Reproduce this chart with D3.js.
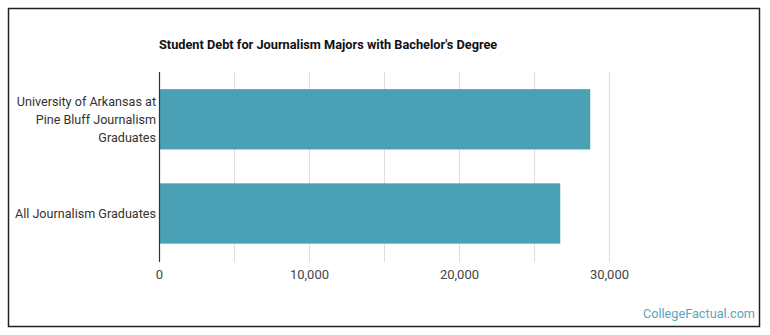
<!DOCTYPE html>
<html><head><meta charset="utf-8">
<script src="https://cdn.jsdelivr.net/npm/d3@7"></script>
<style>body{margin:0;background:#fff;font-family:Roboto,"Noto Sans",sans-serif;}</style>
</head><body><svg id="c" width="770" height="335"></svg>
<script>
const categories = [["University of Arkansas at","Pine Bluff Journalism","Graduates"],["All Journalism Graduates"]];
const values = [28750, 26750];
const tickValues = [0, 10000, 20000, 30000];
const gridValues = [0, 5000, 10000, 15000, 20000, 25000, 30000];
const title = "Student Debt for Journalism Majors with Bachelor's Degree";

const svg = d3.select("#c");
svg.append("rect").attr("x",8.5).attr("y",8.5).attr("width",751).attr("height",318)
  .attr("fill","#fff").attr("stroke","#222").attr("stroke-width",1.5);

const x = d3.scaleLinear().domain([0,30000]).range([159,609]);
const y = d3.scaleBand().domain(d3.range(categories.length)).range([72.2,260.6]).paddingInner(0.36).paddingOuter(0.18);

svg.append("g").selectAll("line").data(gridValues.slice(1)).join("line")
  .attr("x1",d=>Math.round(x(d))+0.5).attr("x2",d=>Math.round(x(d))+0.5)
  .attr("y1",72).attr("y2",262).attr("stroke","#ddd").attr("stroke-width",1);

svg.append("g").selectAll("rect").data(values).join("rect")
  .attr("x",x(0)).attr("y",(d,i)=>y(i)).attr("width",d=>x(d)-x(0)).attr("height",y.bandwidth())
  .attr("fill","#4aa0b4");

svg.append("line").attr("x1",159.5).attr("x2",159.5).attr("y1",72).attr("y2",262).attr("stroke","#333").attr("stroke-width",1.2);

const ax = d3.axisBottom(x).tickValues(tickValues).tickFormat(d3.format(",")).tickSize(0).tickPadding(0);
const g = svg.append("g").attr("transform","translate(0,270)").call(ax);
g.select(".domain").remove();
g.selectAll("text").attr("font-size","13px").attr("fill","#444").attr("font-family","Roboto,sans-serif").attr("dy","0.71em");

const lab = svg.append("g");
categories.forEach((lines,i)=>{
  const cy = y(i)+y.bandwidth()/2;
  const lh = 18;
  const t = lab.append("text").attr("text-anchor","end").attr("font-size","12.6px").attr("fill","#333")
    .attr("font-family","Roboto,sans-serif");
  lines.forEach((s,j)=>{
    t.append("tspan").attr("x",156).attr("y",cy+(j-(lines.length-1)/2)*lh).attr("dy","0.35em").text(s);
  });
});

svg.append("text").attr("x",159).attr("y",49).attr("font-size","12.75px").attr("font-weight","bold")
  .attr("fill","#111").attr("font-family","Roboto,sans-serif").text(title);

svg.append("text").attr("x",755).attr("y",318).attr("text-anchor","end").attr("font-size","12.7px")
  .attr("fill","#5aa5bd").attr("font-family","Roboto,sans-serif").text("CollegeFactual.com");
</script></body></html>
